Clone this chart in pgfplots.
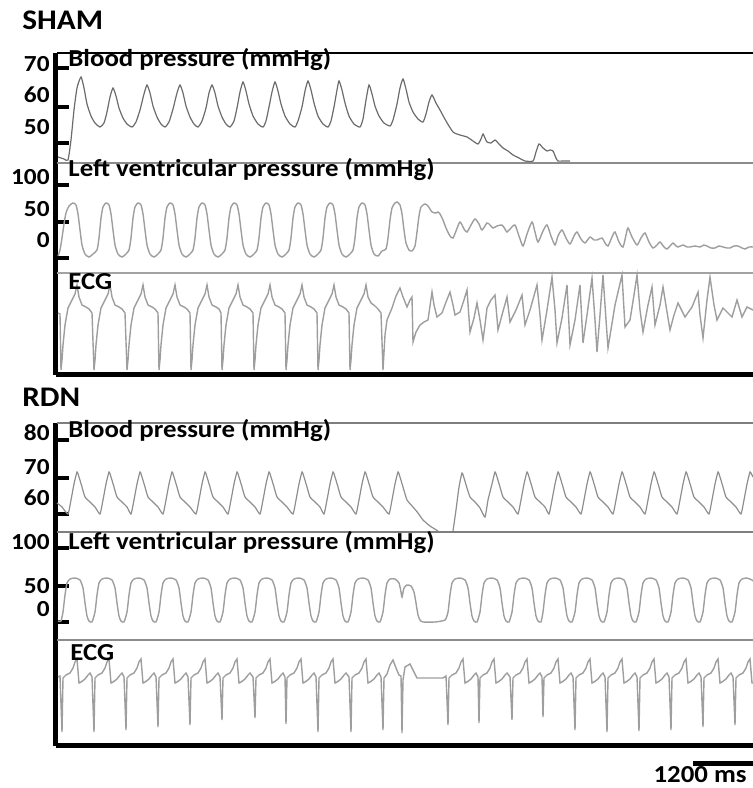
\documentclass[border=0pt]{standalone}
\usepackage{fontspec}
\setmainfont{Carlito}[FakeStretch=1.1]
\usepackage{pgfplots}
\pgfplotsset{compat=1.18}
\definecolor{trace}{gray}{0.62}
\definecolor{tracedark}{gray}{0.42}
\definecolor{sep}{gray}{0.55}
\pgfplotsset{panel/.style={scale only axis, clip=false, y dir=reverse, width=348.75pt,
  xmin=55.5, xmax=753, axis x line*=bottom, axis y line*=left,
  axis line style={line width=2.5pt, black, -}, xtick=\empty, yticklabels={},
  tick style={line width=2pt, black}, major tick length=6.5pt, tick align=inside}}
\tikzset{lab/.style={font=\bfseries\fontsize{12.2}{14}\selectfont, inner sep=0pt, anchor=base west},
  tl/.style={font=\bfseries\fontsize{11.5}{13}\selectfont, inner sep=0pt, anchor=base east},
  ttl/.style={font=\bfseries\fontsize{14.2}{16}\selectfont, inner sep=0pt, anchor=base west}}
\begin{document}
\begin{tikzpicture}
\useasboundingbox (0,0) rectangle (376.5pt,394pt);
% ================= SHAM =================
\begin{axis}[panel, at={(27.75pt,206.75pt)}, anchor=south west, height=160.75pt,
  ymin=53, ymax=374.5, ytick={68,107,143,185,222,258}]
\addplot[black, line width=1pt] coordinates {(57,53)(753,53)};
\addplot[sep, line width=1pt] coordinates {(57,163)(753,163)};
\addplot[sep!80, line width=1pt] coordinates {(57,273)(753,273)};
% blood pressure
\addplot[tracedark, line width=0.6pt, smooth, tension=0.35] coordinates {(58,157)(64,159)(68,160)(71,140)(74,110)(77,88)(81,77)(84,88)(87,104)(91,116)(95,123)(100,127)(104,123)(107,112)(110,97)(113,88)(116,96)(119,108)(123,118)(127,124)(132,127)(136,122)(140,110)(144,94)(147,85)(150,93)(153,106)(157,117)(161,124)(165,127)(169,122)(173,109)(177,93)(180,85)(183,93)(186,106)(190,117)(194,124)(198,127)(202,121)(206,108)(209,93)(212,85)(215,93)(218,106)(222,117)(226,124)(230,127)(234,121)(237,108)(240,92)(243,82)(246,91)(249,104)(253,116)(258,124)(263,127)(266,121)(269,107)(272,92)(275,82)(278,91)(281,104)(285,116)(290,124)(295,127)(298,121)(302,107)(305,91)(308,81)(311,90)(314,103)(318,116)(323,124)(328,127)(331,121)(334,107)(337,90)(339,81)(342,90)(345,103)(349,116)(354,124)(360,127)(363,119)(366,100)(369,85)(372,94)(375,106)(379,116)(384,123)(390,126)(393,120)(397,104)(400,88)(403,79)(406,89)(409,102)(413,112)(418,119)(423,122)(426,114)(429,102)(432,95)(436,103)(440,110)(446,121)(453,132)(460,135)(467,137)(473,141)(478,144)(481,139)(483,134)(485,138)(487,142)(491,143)(495,140)(499,144)(503,148)(508,151)(513,155)(519,158)(525,161)(533,161)(536,152)(539,144)(543,148)(547,151)(550,150)(553,151)(556,158)(558,161)(564,161)(570,161)};
% left ventricular pressure
\addplot[trace, line width=0.7pt, smooth, tension=0.4] coordinates {(58,256)(60,250)(62,238)(64,224)(66,213)(69,206)(73,203)(76,205)(78,214)(80,230)(82,245)(85,254)(89,257)(93,254)
(97,250)(99,238)(101,218)(103,207)(106,203)(109,205)(111,214)(113,230)(115,245)(118,254)(122,257)(126,254)
(129,250)(131,238)(133,218)(135,207)(138,203)(141,205)(143,214)(145,230)(147,245)(150,254)(154,257)(158,254)
(161,250)(163,238)(165,218)(167,207)(170,203)(173,205)(175,214)(177,230)(179,245)(182,254)(186,257)(190,254)
(193,250)(195,238)(197,218)(199,207)(202,203)(205,205)(207,214)(209,230)(211,245)(214,254)(218,257)(222,254)
(225,250)(227,238)(229,218)(231,207)(234,203)(237,205)(239,214)(241,230)(243,245)(246,254)(250,257)(254,254)
(257,250)(259,238)(261,218)(263,207)(266,203)(269,205)(271,214)(273,230)(275,245)(278,254)(282,257)(286,254)
(289,250)(291,238)(293,218)(295,207)(298,203)(301,205)(303,214)(305,230)(307,245)(310,254)(314,257)(318,254)
(321,250)(323,238)(325,218)(327,207)(330,203)(333,205)(335,214)(337,230)(339,245)(342,254)(346,257)(350,254)
(353,250)(355,238)(357,218)(359,207)(362,203)(365,205)(367,214)(369,230)(371,245)(374,254)(378,256)(382,251)
(386,249)(388,238)(390,220)(392,208)(395,203)(397,202)(400,205)(402,214)(404,230)(406,243)(409,250)(412,251)(415,246)(417,232)(419,216)(421,207)(425,204)(428,206)(432,212)(436,213)(438,212)(440,214)(443,220)(446,228)(450,236)(453,238)(456,231)(460,222)(464,229)(467,232)(471,225)(475,219)(479,224)(482,230)(487,223)(490,225)(493,228)(497,226)(502,225)(505,229)(507,232)(511,228)(515,225)(519,236)(523,246)(527,234)(532,222)(535,232)(538,242)(543,231)(547,225)(551,236)(555,245)(558,236)(562,230)(566,238)(570,244)(574,236)(577,232)(581,239)(585,243)(590,237)(594,240)(597,240)(602,238)(605,243)(608,246)(612,237)(615,232)(619,242)(623,247)(626,235)(628,228)(632,237)(637,245)(641,238)(645,233)(649,242)(653,248)(657,245)(660,242)(664,247)(667,249)(670,246)(673,243)(676,246)(678,247)(683,245)(687,247)(690,247)(695,246)(700,247)(704,245)(707,246)(711,248)(715,248)(719,246)(723,247)(727,248)(730,248)(734,246)(738,246)(742,248)(745,249)(749,247)(753,247)};
% ECG
\addplot[trace, line width=0.7pt] coordinates {(58,313)(60,314)
(61,370)(62,360)(63,345)(65,325)(68,308)(72,300)(75,294)(77,285)(79,297)(82,305)(86,307)(89,309)(92,313)
(94,370)(95,360)(96,345)(98,325)(101,308)(105,300)(108,294)(110,285)(112,297)(115,305)(119,307)(122,309)(125,313)
(127,370)(128,360)(129,345)(131,325)(134,308)(138,300)(141,294)(143,285)(145,297)(148,305)(152,307)(155,309)(158,313)
(159,370)(160,360)(161,345)(163,325)(166,308)(170,300)(173,294)(175,285)(177,297)(180,305)(184,307)(187,309)(190,313)
(191,370)(192,360)(193,345)(195,325)(198,308)(202,300)(205,294)(207,285)(209,297)(212,305)(216,307)(219,309)(221,313)
(222,370)(223,360)(224,345)(226,325)(229,308)(233,300)(236,294)(238,285)(240,297)(243,305)(247,307)(250,309)(253,313)
(254,370)(255,360)(256,345)(258,325)(261,308)(265,300)(268,294)(270,285)(272,297)(275,305)(279,307)(282,309)(285,313)
(286,370)(287,360)(288,345)(290,325)(293,308)(297,300)(300,294)(302,285)(304,297)(307,305)(311,307)(314,309)(317,313)
(318,370)(319,360)(320,345)(322,325)(325,308)(329,300)(332,294)(334,285)(336,297)(339,305)(343,307)(346,309)(349,313)
(350,370)(351,360)(352,345)(354,325)(357,308)(361,300)(364,294)(366,285)(368,297)(371,303)(375,306)(378,309)(381,313)
(383,370)(385,335)(387,320)(392,308)(396,296)(400,288)(403,297)(407,307)(410,300)(412,297)(413,342)(416,332)(420,325)(424,322)(428,320)(432,292)(434,305)(437,317)(442,313)(446,302)(450,292)(453,305)(455,315)(460,312)(464,300)(467,290)(470,332)(474,318)(477,303)(480,320)(483,340)(485,325)(487,308)(491,300)(495,295)(498,330)(502,315)(507,297)(510,322)(516,310)(522,295)(525,325)(530,310)(537,285)(540,315)(542,340)(547,310)(552,277)(555,310)(557,343)(562,318)(567,285)(570,345)(575,320)(580,285)(583,343)(587,315)(592,278)(595,320)(597,352)(600,315)(603,275)(606,320)(608,348)(615,305)(622,275)(625,327)(630,320)(634,295)(637,275)(640,310)(643,332)(648,305)(652,287)(655,325)(660,305)(663,287)(667,312)(670,330)(674,315)(678,303)(685,317)(692,307)(698,292)(700,315)(703,338)(707,300)(710,277)(714,305)(717,320)(723,308)(727,312)(732,317)(737,300)(742,317)(747,307)(753,310)};
% texts
\node[ttl] at (axis cs:22,30) {SHAM};
\node[lab] at (axis cs:68,67) {Blood pressure (mmHg)};
\node[lab] at (axis cs:68,177) {Left ventricular pressure (mmHg)};
\node[lab] at (axis cs:68,290) {ECG};
\node[tl] at (axis cs:50,72) {70};
\node[tl] at (axis cs:50,103) {60};
\node[tl] at (axis cs:50,135) {50};
\node[tl] at (axis cs:50,185) {100};
\node[tl] at (axis cs:50,217) {50};
\node[tl] at (axis cs:50,248) {0};
\end{axis}
% ================= RDN =================
\begin{axis}[panel, at={(27.75pt,21.25pt)}, anchor=south west, height=161.25pt,
  ymin=423, ymax=745.5, ytick={440,478,514,548,586,622}]
\addplot[sep!90!black, line width=0.6pt] coordinates {(57,423)(753,423)};
\addplot[sep!90!black, line width=0.8pt] coordinates {(57,532)(753,532)};
\addplot[sep, line width=1pt] coordinates {(57,640)(753,640)};
% blood pressure
\addplot[trace!90!black, line width=0.6pt, smooth, tension=0.3] coordinates {(57,503)(62,507)(68,514)
(71,500)(74,484)(77,472)(79,477)(82,487)(85,497)(90,502)(95,507)(100,514)
(103,500)(106,484)(109,472)(111,477)(114,487)(117,497)(122,502)(127,507)(131,514)
(134,500)(137,484)(140,472)(142,477)(145,487)(148,497)(153,502)(158,507)(163,514)
(166,500)(169,484)(172,472)(174,477)(177,487)(180,497)(185,502)(190,507)(196,514)
(199,500)(202,484)(205,472)(207,477)(210,487)(213,497)(218,502)(223,507)(228,514)
(231,500)(234,484)(237,472)(239,477)(242,487)(245,497)(250,502)(255,507)(260,514)
(263,500)(266,484)(269,472)(271,477)(274,487)(277,497)(282,502)(287,507)(293,514)
(296,500)(299,484)(302,472)(304,477)(307,487)(310,497)(315,502)(320,507)(324,514)
(327,500)(330,484)(333,472)(335,477)(338,487)(341,497)(346,502)(351,507)(356,514)
(359,500)(362,484)(365,472)(367,477)(370,487)(373,497)(378,502)(383,507)(389,514)
(392,500)(395,484)(398,472)(400,477)(403,487)(407,500)(413,507)(418,513)(423,520)(430,526)(438,531)};
\addplot[trace!90!black, line width=0.6pt, smooth, tension=0.3] coordinates {(453,531)(456,510)(459,487)(462,473)(464,478)(467,488)(470,497)(475,502)(480,508)(485,517)
(488,500)(492,484)(495,472)(497,477)(500,487)(503,497)(508,502)(513,507)(518,514)
(521,500)(524,484)(527,472)(529,477)(532,487)(535,497)(540,502)(545,507)(549,514)
(552,500)(555,484)(558,472)(560,477)(563,487)(566,497)(571,502)(576,507)(581,514)
(584,500)(587,484)(590,472)(592,477)(595,487)(598,497)(603,502)(608,507)(613,514)
(616,500)(619,484)(622,472)(624,477)(627,487)(630,497)(635,502)(640,507)(645,514)
(648,500)(651,484)(654,472)(656,477)(659,487)(662,497)(667,502)(672,507)(677,514)
(680,500)(683,484)(686,472)(688,477)(691,487)(694,497)(699,502)(704,507)(709,514)
(712,500)(715,484)(718,472)(720,477)(723,487)(726,497)(731,502)(736,507)(741,514)
(744,500)(747,484)(750,472)(752,475)(753,477)};
% left ventricular pressure
\addplot[trace, line width=0.7pt, smooth, tension=0.35] coordinates {(58,621)(61,621)
(63,612)(65,595)(67,583)(70,579)(75,578)(80,580)(83,588)(85,603)(87,616)(89,621)(92,622)
(95,612)(97,595)(99,583)(102,579)(107,578)(112,580)(115,588)(117,603)(119,616)(121,621)(124,622)
(127,612)(129,595)(131,583)(134,579)(139,578)(144,580)(147,588)(149,603)(151,616)(153,621)(156,622)
(159,612)(161,595)(163,583)(166,579)(171,578)(176,580)(179,588)(181,603)(183,616)(185,621)(188,622)
(191,612)(193,595)(195,583)(198,579)(203,578)(208,580)(211,588)(213,603)(215,616)(217,621)(220,622)
(223,612)(225,595)(227,583)(230,579)(235,578)(240,580)(243,588)(245,603)(247,616)(249,621)(252,622)
(255,612)(257,595)(259,583)(262,579)(267,578)(272,580)(275,588)(277,603)(279,616)(281,621)(284,622)
(287,612)(289,595)(291,583)(294,579)(299,578)(304,580)(307,588)(309,603)(311,616)(313,621)(316,622)
(319,612)(321,595)(323,583)(326,579)(331,578)(336,580)(339,588)(341,603)(343,616)(345,621)(348,622)
(351,612)(353,595)(355,583)(358,579)(363,578)(368,580)(371,588)(373,603)(375,616)(377,621)(380,622)
(383,612)(385,595)(387,583)(390,579)(395,579)(399,583)(401,592)(402,597)(404,588)(407,585)(411,586)(414,592)(416,603)(418,615)(420,620)(423,622)(435,622)(445,620)
(448,612)(450,595)(452,583)(455,579)(460,578)(465,580)(468,588)(470,603)(472,616)(474,621)(477,622)
(480,612)(482,595)(484,583)(487,579)(492,578)(497,580)(500,588)(502,603)(504,616)(506,621)(509,622)
(512,612)(514,595)(516,583)(519,579)(524,578)(529,580)(532,588)(534,603)(536,616)(538,621)(541,622)
(543,612)(545,595)(547,583)(550,579)(555,578)(560,580)(563,588)(565,603)(567,616)(569,621)(572,622)
(575,612)(577,595)(579,583)(582,579)(587,578)(592,580)(595,588)(597,603)(599,616)(601,621)(604,622)
(607,612)(609,595)(611,583)(614,579)(619,578)(624,580)(627,588)(629,603)(631,616)(633,621)(636,622)
(639,612)(641,595)(643,583)(646,579)(651,578)(656,580)(659,588)(661,603)(663,616)(665,621)(668,622)
(671,612)(673,595)(675,583)(678,579)(683,578)(688,580)(691,588)(693,603)(695,616)(697,621)(700,622)
(703,612)(705,595)(707,583)(710,579)(715,578)(720,580)(723,588)(725,603)(727,616)(729,621)(732,622)
(735,612)(737,595)(739,583)(742,579)(747,578)(752,580)(753,581)};
% ECG
\addplot[trace, line width=0.7pt] coordinates {(58,677)(60,676)
(62,732)(63,678)(66,675)(70,673)(73,668)(75,662)(77,659)(79,683)(81,682)(85,679)(88,675)(90,673)(92,677)
(94,732)(95,678)(98,675)(102,673)(105,668)(107,662)(109,659)(111,683)(113,682)(117,679)(120,675)(122,673)(124,677)
(126,730)(127,678)(130,675)(134,673)(137,668)(139,662)(141,659)(143,683)(145,682)(149,679)(152,675)(154,673)(156,677)
(158,727)(159,678)(162,675)(166,673)(169,668)(171,662)(173,659)(175,683)(177,682)(181,679)(184,675)(186,673)(188,677)
(190,725)(191,678)(194,675)(198,673)(201,668)(203,662)(205,659)(207,683)(209,682)(213,679)(216,675)(218,673)(220,677)
(222,720)(223,678)(226,675)(230,673)(233,668)(235,662)(237,659)(239,683)(241,682)(245,679)(248,675)(250,673)(253,677)
(255,718)(256,678)(259,675)(263,673)(266,668)(268,662)(270,659)(272,683)(274,682)(278,679)(281,675)(283,673)(285,677)
(286,724)(287,678)(290,675)(294,673)(297,668)(299,662)(301,659)(303,683)(305,682)(309,679)(312,675)(314,673)(316,677)
(318,732)(319,678)(322,675)(326,673)(329,668)(331,662)(333,659)(335,683)(337,682)(341,679)(344,675)(346,673)(349,677)
(351,732)(352,678)(355,675)(359,673)(362,668)(364,662)(366,659)(368,683)(370,682)(374,679)(377,675)(379,673)(381,677)
(383,730)(384,678)(387,674)(390,665)(393,660)(396,668)(399,675)(401,676)(402,733)(403,680)(405,667)(410,664)(414,672)(417,678)(443,678)(446,676)
(448,725)(449,678)(452,675)(456,673)(459,668)(461,662)(463,659)(465,683)(467,682)(471,679)(474,675)(476,673)(478,677)
(479,723)(480,678)(483,675)(487,673)(490,668)(492,662)(494,659)(496,683)(498,682)(502,679)(505,675)(507,673)(510,677)
(512,720)(513,678)(516,675)(520,673)(523,668)(525,662)(527,659)(529,683)(531,682)(535,679)(538,675)(540,673)(542,677)
(543,717)(544,678)(547,675)(551,673)(554,668)(556,662)(558,659)(560,683)(562,682)(566,679)(569,675)(571,673)(573,677)
(575,730)(576,678)(579,675)(583,673)(586,668)(588,662)(590,659)(592,683)(594,682)(598,679)(601,675)(603,673)(605,677)
(607,732)(608,678)(611,675)(615,673)(618,668)(620,662)(622,659)(624,683)(626,682)(630,679)(633,675)(635,673)(637,677)
(639,731)(640,678)(643,675)(647,673)(650,668)(652,662)(654,659)(656,683)(658,682)(662,679)(665,675)(667,673)(669,677)
(671,730)(672,678)(675,675)(679,673)(682,668)(684,662)(686,659)(688,683)(690,682)(694,679)(697,675)(699,673)(701,677)
(703,727)(704,678)(707,675)(711,673)(714,668)(716,662)(718,659)(720,683)(722,682)(726,679)(729,675)(731,673)(733,677)
(735,725)(736,678)(739,675)(743,673)(746,668)(748,662)(750,659)(752,683)(753,683)};
% scale bar
\addplot[black, line width=2.5pt] coordinates {(693,763)(753,763)};
% texts
\node[ttl] at (axis cs:22,407) {RDN};
\node[lab] at (axis cs:68,438) {Blood pressure (mmHg)};
\node[lab] at (axis cs:68,550) {Left ventricular pressure (mmHg)};
\node[lab] at (axis cs:70,660) {ECG};
\node[lab, anchor=base east] at (axis cs:747,782) {1200 ms};
\node[tl] at (axis cs:50,441) {80};
\node[tl] at (axis cs:50,475) {70};
\node[tl] at (axis cs:50,506) {60};
\node[tl] at (axis cs:50,550) {100};
\node[tl] at (axis cs:50,594) {50};
\node[tl] at (axis cs:50,616) {0};
\end{axis}
\end{tikzpicture}
\end{document}
